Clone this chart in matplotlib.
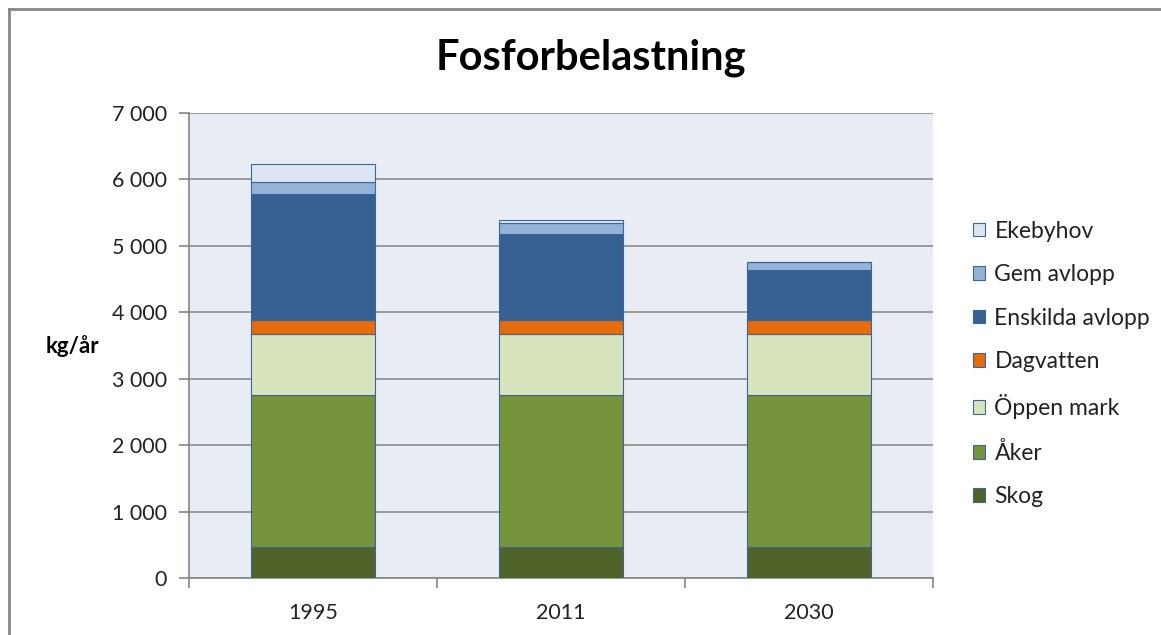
import matplotlib
matplotlib.use('Agg')
import matplotlib.pyplot as plt
from matplotlib.lines import Line2D
from matplotlib.ticker import FuncFormatter, FixedLocator
import numpy as np

plt.rcParams['font.family'] = ['Lato', 'DejaVu Sans']

# data (kg/år)
years = ['1995', '2011', '2030']
skog = [467, 467, 467]
aker = [2288, 2288, 2288]
oppen_mark = [923, 923, 923]
dagvatten = [206, 206, 206]
enskilda_avlopp = [1892, 1294, 757]
gem_avlopp = [185, 166, 111]
ekebyhov = [271, 50, 0]

series = [
    ('Skog', skog, '#4F6228'),
    ('Åker', aker, '#77933C'),
    ('Öppen mark', oppen_mark, '#D7E4BD'),
    ('Dagvatten', dagvatten, '#E46C0A'),
    ('Enskilda avlopp', enskilda_avlopp, '#366092'),
    ('Gem avlopp', gem_avlopp, '#95B3D7'),
    ('Ekebyhov', ekebyhov, '#DCE6F2'),
]

W, H = 1161, 635
fig = plt.figure(figsize=(W / 100, H / 100), dpi=100)
ax = fig.add_axes([189 / W, 1 - 578 / H, 744 / W, 465 / H])
ax.set_facecolor('#E8ECF5')

x = np.arange(len(years))
bottom = np.zeros(len(years))
handles = []
for name, vals, col in series:
    b = ax.bar(x, vals, 0.5, bottom=bottom, color=col, edgecolor='#3D6595',
               linewidth=0.8, label=name, zorder=3)
    handles.append(b)
    bottom += np.array(vals)

ax.set_ylim(0, 7000)
ax.set_xlim(-0.5, 2.5)
ax.set_yticks(range(0, 7001, 1000))
ax.yaxis.set_major_formatter(FuncFormatter(lambda v, p: f'{int(v):,}'.replace(',', ' ')))
ax.grid(axis='y', color='#8C8C8C', linewidth=1.2, zorder=1)
ax.set_axisbelow(True)

# category ticks at the boundaries, labels centred
ax.xaxis.set_major_locator(FixedLocator([-0.5, 0.5, 1.5, 2.5]))
ax.xaxis.set_major_formatter(FuncFormatter(lambda v, p: ''))
ax.xaxis.set_minor_locator(FixedLocator(x))
ax.set_xticklabels(years, minor=True)
ax.tick_params(axis='x', which='minor', length=0, labelsize=15.5, colors='#222222', pad=18)
ax.tick_params(axis='x', which='major', length=7, color='#868686', width=1.2)
ax.tick_params(axis='y', length=7, color='#868686', width=1.2, labelsize=15.5,
               labelcolor='#222222', pad=9)

for s in ['top', 'right']:
    ax.spines[s].set_visible(False)
for s in ['left', 'bottom']:
    ax.spines[s].set_color('#868686')
    ax.spines[s].set_linewidth(1.2)

fig.text(591 / W, 1 - 58 / H, 'Fosforbelastning', ha='center', va='center',
         fontsize=30, fontweight='bold', color='black')
fig.text(72 / W, 1 - 346 / H, 'kg/år', ha='center', va='center',
         fontsize=16, fontweight='bold', color='black')

fig.legend(handles[::-1], [s[0] for s in series][::-1], loc='upper left',
           bbox_to_anchor=(952 / W, 1 - 200 / H), frameon=False, fontsize=16.5,
           labelspacing=0.98, handlelength=0.55, handleheight=0.55,
           handletextpad=0.4, labelcolor='#222222')

# outer chart border (only left and top are visible in the crop)
fig.add_artist(Line2D([9 / W, 9 / W], [0, 1 - 9 / H], transform=fig.transFigure,
                      color='#868686', linewidth=2))
fig.add_artist(Line2D([9 / W, 1], [1 - 9 / H, 1 - 9 / H], transform=fig.transFigure,
                      color='#868686', linewidth=2))

fig.savefig('out.png', dpi=100)
